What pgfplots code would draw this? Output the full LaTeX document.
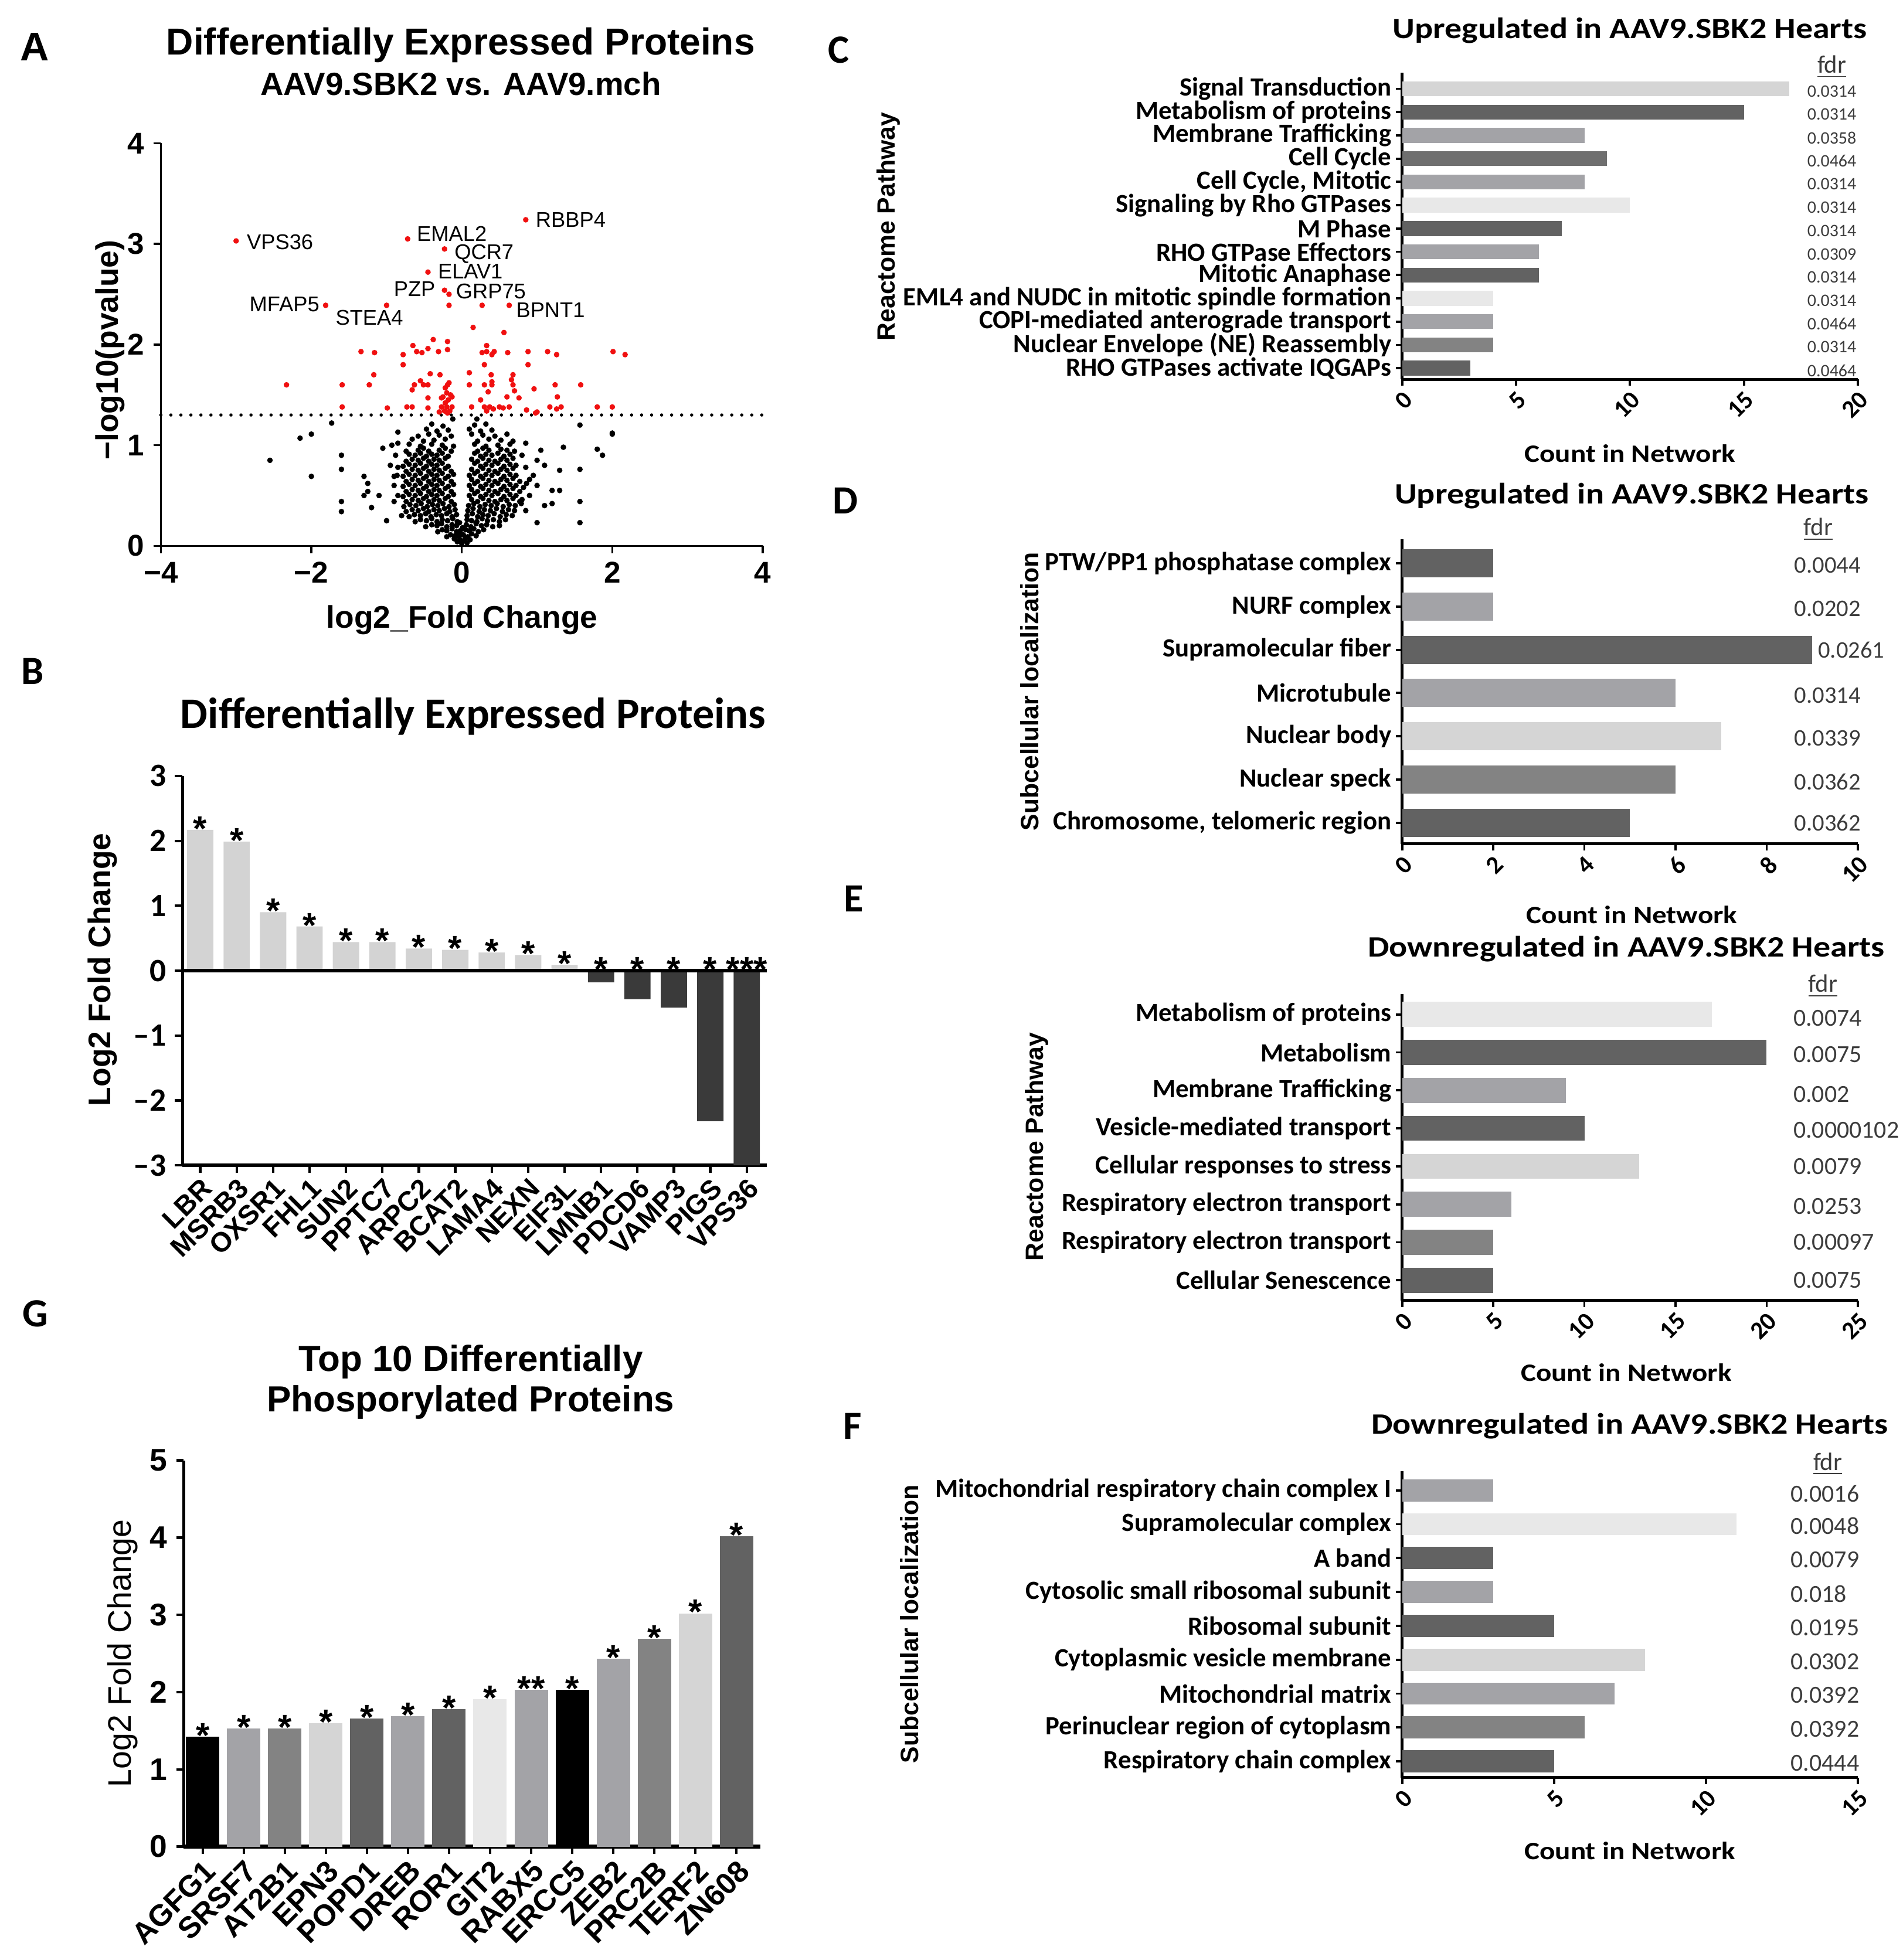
\documentclass[border=0pt]{standalone}
\usepackage{fontspec}
\setmainfont{Liberation Sans}
\newfontfamily\carl{Carlito}
\newfontfamily\carlw[FakeStretch=1.15]{Carlito}
\usepackage{pgfplots}
\pgfplotsset{compat=1.18}
\newcommand\fs[1]{\fontsize{#1}{#1}\selectfont}

\definecolor{g6}{HTML}{626262}
\definecolor{g7}{HTML}{6F6F6F}
\definecolor{g8}{HTML}{838383}
\definecolor{ga}{HTML}{A3A3A7}
\definecolor{gd}{HTML}{D5D5D5}
\definecolor{ge}{HTML}{E8E8E8}
\definecolor{bpos}{HTML}{D3D3D3}
\definecolor{bneg}{HTML}{3A3A3A}
\definecolor{fdrc}{HTML}{3C3C3C}
\definecolor{sigred}{HTML}{F01010}

\pgfplotsset{
  vbar/.style={scale only axis, anchor=south west, clip=false,
    ybar, bar shift=0pt,
    axis lines=left, axis line style={-, line width=1.2pt},
    tick align=outside, major tick length=3pt, tick style={black, line width=1pt},
    xticklabel style={rotate=45, anchor=north east, inner sep=1pt}},
  hbar/.style={scale only axis, anchor=south west, clip=false, width=182pt,
    xbar, bar shift=0pt, y dir=reverse, xmin=0,
    axis lines=left, axis line style={-, line width=1.2pt},
    tick align=outside, major tick length=2.6pt, tick style={black, line width=0.9pt},
    yticklabel style={font=\carl\bfseries\fs{10.5}, inner sep=1.5pt},
    xticklabel style={font=\carl\bfseries\fs{10}, rotate=45, anchor=north east, inner sep=1pt}},
  stars/.style={draw=none, fill=none, nodes near coords, point meta=explicit symbolic,
    every node near coord/.append style={font=\bfseries\fs{14}, inner sep=0pt, yshift=-4.5pt}},
}

\begin{document}
\begin{tikzpicture}
\path[use as bounding box] (0pt,0pt) rectangle (760pt,-783pt);

% ---------------- A: volcano plot
\begin{axis}[scale only axis, anchor=south west, clip=false,
  at={(64.25pt,-218.05pt)}, width=240.4pt, height=160.8pt,
  xmin=-4, xmax=4, ymin=0, ymax=4,
  axis lines=left, axis line style={-, line width=0.8pt},
  xtick={-4,-2,0,2,4}, xticklabels={−4,−2,0,2,4},
  ytick={0,1,2,3,4}, yticklabels={0,1,2,3,4},
  tick align=outside, major tick length=3pt, tick style={black, line width=0.8pt},
  ticklabel style={font=\bfseries\fs{12}}]
% not significant
\addplot[only marks, mark=*, mark size=0.9pt, black] coordinates {
(-0.10,0.07) (-0.06,0.04) (-0.02,0.06) (0.03,0.05) (0.07,0.03) (0.11,0.06) (0.00,0.02) (-0.04,0.09) (0.05,0.08)
(-0.20,0.09) (-0.15,0.11) (-0.09,0.10) (-0.04,0.12) (0.02,0.11) (0.08,0.09) (0.13,0.12) (0.19,0.10)
(-0.32,0.14) (-0.26,0.16) (-0.20,0.15) (-0.13,0.17) (-0.07,0.14) (0.05,0.16) (0.10,0.15) (0.16,0.17) (0.22,0.14) (0.29,0.16) (-0.02,0.15) (0.01,0.18)
(-0.48,0.19) (-0.40,0.21) (-0.33,0.20) (-0.27,0.22) (-0.20,0.19) (-0.13,0.21) (-0.07,0.20) (0.06,0.21) (0.12,0.19) (0.19,0.22) (0.26,0.20) (0.33,0.21) (0.41,0.19) (0.50,0.20) (-0.03,0.23)
(-0.62,0.24) (-0.55,0.26) (-0.47,0.25) (-0.40,0.27) (-0.33,0.24) (-0.26,0.26) (-0.19,0.25) (-0.12,0.27) (-0.06,0.24) (0.07,0.26) (0.13,0.25) (0.20,0.24) (0.27,0.27) (0.34,0.25) (0.42,0.26) (0.50,0.24) (0.58,0.26)
(-0.70,0.29) (-0.63,0.31) (-0.55,0.30) (-0.48,0.32) (-0.41,0.29) (-0.34,0.31) (-0.27,0.30) (-0.20,0.32) (-0.13,0.29) (-0.07,0.31) (0.07,0.30) (0.14,0.32) (0.21,0.29) (0.28,0.31) (0.35,0.30) (0.43,0.32) (0.51,0.29) (0.59,0.31) (0.67,0.30)
(-0.74,0.34) (-0.66,0.36) (-0.58,0.35) (-0.51,0.37) (-0.44,0.34) (-0.37,0.36) (-0.30,0.35) (-0.23,0.37) (-0.16,0.34) (-0.09,0.36) (0.08,0.35) (0.15,0.37) (0.23,0.34) (0.30,0.36) (0.38,0.35) (0.46,0.37) (0.54,0.34) (0.62,0.36) (0.70,0.35)
(-0.77,0.39) (-0.69,0.41) (-0.61,0.40) (-0.54,0.42) (-0.46,0.39) (-0.39,0.41) (-0.32,0.40) (-0.25,0.42) (-0.17,0.39) (-0.10,0.41) (0.09,0.40) (0.16,0.42) (0.24,0.39) (0.31,0.41) (0.39,0.40) (0.47,0.42) (0.55,0.39) (0.63,0.41) (0.71,0.40) (0.79,0.42)
(-0.74,0.44) (-0.66,0.46) (-0.58,0.45) (-0.51,0.47) (-0.44,0.44) (-0.37,0.46) (-0.30,0.45) (-0.22,0.47) (-0.14,0.44) (0.13,0.46) (0.21,0.44) (0.28,0.47) (0.36,0.45) (0.44,0.44) (0.52,0.46) (0.60,0.45) (0.68,0.47) (0.77,0.44)
(-0.78,0.49) (-0.70,0.51) (-0.62,0.50) (-0.55,0.52) (-0.47,0.49) (-0.40,0.51) (-0.33,0.50) (-0.26,0.52) (-0.18,0.49) (-0.11,0.51) (0.10,0.50) (0.17,0.52) (0.25,0.49) (0.32,0.51) (0.40,0.50) (0.48,0.52) (0.56,0.49) (0.64,0.51) (0.72,0.50)
(-0.74,0.54) (-0.66,0.56) (-0.58,0.55) (-0.51,0.57) (-0.44,0.54) (-0.37,0.56) (-0.30,0.55) (-0.22,0.57) (-0.14,0.54) (0.13,0.56) (0.21,0.54) (0.28,0.57) (0.36,0.55) (0.44,0.54) (0.52,0.56) (0.60,0.55) (0.68,0.57) (0.77,0.54)
(-0.78,0.59) (-0.70,0.61) (-0.62,0.60) (-0.55,0.62) (-0.47,0.59) (-0.40,0.61) (-0.33,0.60) (-0.26,0.62) (-0.18,0.59) (-0.11,0.61) (0.10,0.60) (0.17,0.62) (0.25,0.59) (0.32,0.61) (0.40,0.60) (0.48,0.62) (0.56,0.59) (0.64,0.61) (0.72,0.60)
(-0.74,0.64) (-0.66,0.66) (-0.58,0.65) (-0.51,0.67) (-0.44,0.64) (-0.37,0.66) (-0.30,0.65) (-0.22,0.67) (-0.14,0.64) (0.13,0.66) (0.21,0.64) (0.28,0.67) (0.36,0.65) (0.44,0.64) (0.52,0.66) (0.60,0.65) (0.68,0.67) (0.77,0.64)
(-0.78,0.69) (-0.70,0.71) (-0.62,0.70) (-0.55,0.72) (-0.47,0.69) (-0.40,0.71) (-0.33,0.70) (-0.26,0.72) (-0.18,0.69) (-0.11,0.71) (0.10,0.70) (0.17,0.72) (0.25,0.69) (0.32,0.71) (0.40,0.70) (0.48,0.72) (0.56,0.69) (0.64,0.71) (0.72,0.70)
(-0.74,0.74) (-0.66,0.76) (-0.58,0.75) (-0.51,0.77) (-0.44,0.74) (-0.37,0.76) (-0.30,0.75) (-0.22,0.77) (-0.14,0.74) (0.13,0.76) (0.21,0.74) (0.28,0.77) (0.36,0.75) (0.44,0.74) (0.52,0.76) (0.60,0.75) (0.68,0.77)
(-0.78,0.79) (-0.70,0.81) (-0.62,0.80) (-0.55,0.82) (-0.47,0.79) (-0.40,0.81) (-0.33,0.80) (-0.26,0.82) (-0.18,0.79) (0.17,0.82) (0.25,0.79) (0.32,0.81) (0.40,0.80) (0.48,0.82) (0.56,0.79) (0.64,0.81) (0.72,0.80)
(-0.74,0.84) (-0.66,0.86) (-0.58,0.85) (-0.51,0.87) (-0.44,0.84) (-0.37,0.86) (-0.30,0.85) (-0.22,0.87) (0.13,0.86) (0.21,0.84) (0.28,0.87) (0.36,0.85) (0.44,0.84) (0.52,0.86) (0.60,0.85) (0.68,0.87)
(-0.70,0.91) (-0.62,0.90) (-0.55,0.92) (-0.47,0.89) (-0.40,0.91) (-0.33,0.90) (-0.26,0.92) (-0.18,0.89) (0.17,0.92) (0.25,0.89) (0.32,0.91) (0.40,0.90) (0.48,0.92) (0.56,0.89) (0.64,0.91)
(-0.74,0.94) (-0.58,0.95) (-0.51,0.97) (-0.44,0.94) (-0.30,0.95) (-0.22,0.97) (-0.14,0.94) (0.21,0.94) (0.28,0.97) (0.36,0.95) (0.52,0.96) (0.60,0.95) (0.70,0.94)
(-0.70,1.01) (-0.55,0.99) (-0.40,1.01) (-0.26,1.00) (-0.11,0.99) (0.17,1.01) (0.32,0.99) (0.48,1.00) (0.64,1.01)
(-0.66,1.06) (-0.51,1.04) (-0.37,1.05) (-0.22,1.06) (0.21,1.04) (0.36,1.06) (0.52,1.05) (0.68,1.04)
(-0.58,1.09) (-0.44,1.11) (-0.30,1.10) (-0.14,1.09) (0.13,1.11) (0.28,1.10) (0.44,1.09) (0.60,1.11)
(-0.47,1.16) (-0.33,1.14) (-0.18,1.15) (0.10,1.16) (0.25,1.14) (0.40,1.15)
(-0.40,1.21) (-0.25,1.19) (0.17,1.20) (0.32,1.21) (-0.12,1.26) (0.20,1.26)
(-2.55,0.85) (-2.15,1.07) (-2.00,1.11) (-2.00,0.69) (-1.73,1.22) (-1.60,0.90) (-1.60,0.76) (-1.60,0.44) (-1.60,0.34)
(-1.30,0.69) (-1.30,0.50) (-1.25,0.62) (-1.25,0.54) (-1.20,0.38) (-1.10,0.50) (-1.05,0.97) (-1.00,0.25) (-0.95,0.80)
(-0.93,1.00) (-0.90,0.69) (-0.90,0.60) (-0.90,0.44) (-0.85,1.13) (-0.85,0.78) (-0.85,0.50) (-0.85,1.02) (-0.80,0.30)
(-0.88,0.90) (-0.86,0.70)
(1.00,0.23) (1.57,0.23) (1.57,0.44) (1.57,0.76) (1.57,1.20) (2.00,1.11) (2.00,1.12) (1.80,0.96) (1.87,0.90) (1.35,0.98)
(1.30,0.75) (1.30,0.55) (1.20,0.55) (1.20,0.42) (1.10,0.40) (1.10,0.80) (1.05,0.95) (1.00,0.60) (1.00,0.85) (0.95,0.70)
(0.90,0.66) (0.90,0.50) (0.86,0.62) (0.85,0.35) (0.85,0.78) (0.82,0.58) (0.80,0.90) (0.85,1.02) (0.80,0.46)
};
% significant (p < 0.05)
\addplot[only marks, mark=*, mark size=0.9pt, sigred] coordinates {
(-3.00,3.03) (-0.72,3.05) (0.85,3.24) (-0.23,2.95) (-0.45,2.72) (-0.23,2.54) (-0.17,2.50)
(-1.81,2.39) (-1.00,2.39) (-0.17,2.39) (0.27,2.39) (0.63,2.39) (0.15,2.17) (0.56,2.12)
(-0.38,2.05) (-0.19,2.03) (-0.65,1.99) (0.33,1.99)
(-1.34,1.93) (-1.16,1.92) (-0.78,1.90) (-0.60,1.93) (-0.53,1.92) (-0.45,1.96) (-0.31,1.93) (-0.19,1.95)
(0.27,1.92) (0.33,1.93) (0.40,1.90) (0.43,1.93) (0.61,1.92) (0.88,1.93) (1.14,1.93) (1.26,1.90) (2.01,1.93) (2.17,1.90)
(-0.78,1.80) (0.30,1.80) (0.88,1.80)
(-1.17,1.70) (-0.42,1.71) (-0.29,1.70) (0.10,1.72) (0.39,1.70) (0.68,1.70)
(-0.55,1.64) (0.40,1.63) (0.66,1.65)
(-2.33,1.60) (-1.59,1.60) (-1.23,1.60) (-0.63,1.60) (-0.51,1.60) (-0.45,1.60) (-0.22,1.57) (-0.19,1.60) (-0.17,1.62)
(0.10,1.60) (0.30,1.60) (0.40,1.60) (0.68,1.60) (0.96,1.56) (1.24,1.60) (1.58,1.60)
(-0.66,1.55) (-0.20,1.52) (-0.15,1.50) (-0.25,1.48) (0.35,1.53) (0.70,1.54)
(-0.45,1.47) (-0.27,1.47) (-0.22,1.42) (-0.18,1.45) (-0.13,1.48) (0.25,1.45) (0.60,1.48) (0.76,1.47) (1.27,1.48)
(-1.59,1.38) (-0.99,1.37) (-0.73,1.38) (-0.66,1.38) (-0.45,1.37) (-0.27,1.38) (-0.20,1.38) (-0.13,1.38)
(0.13,1.38) (0.30,1.38) (0.37,1.38) (0.42,1.36) (0.50,1.38) (0.55,1.37) (0.63,1.38) (0.86,1.35) (1.17,1.38)
(1.26,1.36) (1.32,1.38) (1.80,1.38) (2.00,1.38)
(-0.30,1.33) (-0.23,1.34) (-0.19,1.32) (-0.16,1.34) (0.33,1.34) (0.98,1.32) (1.00,1.33)
};
\addplot[black, line width=1.3pt, line cap=round, dash pattern=on 0pt off 4pt] coordinates {(-4,1.3) (4,1.3)};
\begin{scope}[every node/.style={font=\fs{8.5}, inner sep=0.5pt}]
\node[anchor=west] at (axis cs:-2.88,3.02) {VPS36};
\node[anchor=west] at (axis cs:-0.62,3.10) {EMAL2};
\node[anchor=west] at (axis cs:0.96,3.24) {RBBP4};
\node[anchor=west] at (axis cs:-0.12,2.90) {QCR7};
\node[anchor=west] at (axis cs:-0.34,2.73) {ELAV1};
\node[anchor=east] at (axis cs:-0.33,2.55) {PZP};
\node[anchor=west] at (axis cs:-0.10,2.53) {GRP75};
\node[anchor=east] at (axis cs:-1.87,2.40) {MFAP5};
\node[anchor=west] at (axis cs:-1.70,2.27) {STEA4};
\node[anchor=west] at (axis cs:0.70,2.34) {BPNT1};
\end{scope}
\end{axis}

% ---------------- B: differentially expressed proteins
\begin{axis}[vbar, at={(72.85pt,-465.5pt)}, width=233.4pt, height=155.5pt,
  bar width=10.5pt, xmin=-0.49, xmax=15.55, ymin=-3, ymax=3,
  xtick={0,...,15},
  xticklabels={LBR,MSRB3,OXSR1,FHL1,SUN2,PPTC7,ARPC2,BCAT2,LAMA4,NEXN,EIF3L,LMNB1,PDCD6,VAMP3,PIGS,VPS36},
  ytick={-3,...,3}, yticklabels={–3,–2,–1,0,1,2,3},
  xticklabel style={font=\bfseries\fs{11}},
  yticklabel style={font=\carl\bfseries\fs{13}}]
\addplot[fill=bpos, draw=none] coordinates {
(0,2.17) (1,1.99) (2,0.90) (3,0.68) (4,0.44) (5,0.44) (6,0.34) (7,0.32) (8,0.28) (9,0.24) (10,0.09)};
\addplot[fill=bneg, draw=none] coordinates {
(11,-0.18) (12,-0.44) (13,-0.57) (14,-2.32) (15,-3.00)};
\addplot[stars] coordinates {
(0,2.17)[*] (1,1.99)[*] (2,0.90)[*] (3,0.68)[*] (4,0.44)[*] (5,0.44)[*] (6,0.34)[*] (7,0.32)[*]
(8,0.28)[*] (9,0.24)[*] (10,0.09)[*] (11,0)[*] (12,0)[*] (13,0)[*] (14,0)[*] (15,0)[***]};
\draw[line width=1.5pt] (rel axis cs:0,0.5) -- (rel axis cs:1,0.5);
\end{axis}

% ---------------- G: phosphorylated proteins
\begin{axis}[vbar, at={(73.4pt,-737.7pt)}, width=230.25pt, height=154.3pt,
  bar width=13.35pt, xmin=-0.46, xmax=13.58, ymin=0, ymax=5,
  x axis line style={line width=1.6pt},
  xtick={0,...,13},
  xticklabels={AGFG1,SRSF7,AT2B1,EPN3,POPD1,DREB,ROR1,GIT2,RABX5,ERCC5,ZEB2,PRC2B,TERF2,ZN608},
  ytick={0,...,5}, yticklabels={0,1,2,3,4,5},
  xticklabel style={font=\bfseries\fs{12}},
  yticklabel style={font=\bfseries\fs{12.5}}]
\addplot[fill=black, draw=none] coordinates {(0,1.42)};
\addplot[fill=ga, draw=none] coordinates {(1,1.53)};
\addplot[fill=g8, draw=none] coordinates {(2,1.53)};
\addplot[fill=gd, draw=none] coordinates {(3,1.60)};
\addplot[fill=g6, draw=none] coordinates {(4,1.66)};
\addplot[fill=ga, draw=none] coordinates {(5,1.69)};
\addplot[fill=g6, draw=none] coordinates {(6,1.78)};
\addplot[fill=ge, draw=none] coordinates {(7,1.91)};
\addplot[fill=ga, draw=none] coordinates {(8,2.03)};
\addplot[fill=black, draw=none] coordinates {(9,2.03)};
\addplot[fill=ga, draw=none] coordinates {(10,2.43)};
\addplot[fill=g8, draw=none] coordinates {(11,2.69)};
\addplot[fill=gd, draw=none] coordinates {(12,3.02)};
\addplot[fill=g6, draw=none] coordinates {(13,4.02)};
\addplot[stars] coordinates {
(0,1.42)[*] (1,1.53)[*] (2,1.53)[*] (3,1.60)[*] (4,1.66)[*] (5,1.69)[*] (6,1.78)[*]
(7,1.91)[*] (8,2.03)[**] (9,2.03)[*] (10,2.43)[*] (11,2.69)[*] (12,3.02)[*] (13,4.02)[*]};
\end{axis}

% ---------------- C: upregulated, reactome
\begin{axis}[hbar, at={(560pt,-151.55pt)}, height=122.4pt, bar width=5.95pt,
  xmax=20, ymin=-0.68, ymax=12.48,
  xtick={0,5,10,15,20}, xticklabels={0,5,10,15,20}, ytick={0,...,12},
  yticklabels={Signal Transduction,Metabolism of proteins,Membrane Trafficking,Cell Cycle,{Cell Cycle, Mitotic},Signaling by Rho GTPases,M Phase,RHO GTPase Effectors,Mitotic Anaphase,EML4 and NUDC in mitotic spindle formation,COPI-mediated anterograde transport,Nuclear Envelope (NE) Reassembly,RHO GTPases activate IQGAPs}]
\addplot[fill=gd, draw=none] coordinates {(17,0)};
\addplot[fill=g6, draw=none] coordinates {(15,1)};
\addplot[fill=ga, draw=none] coordinates {(8,2)};
\addplot[fill=g7, draw=none] coordinates {(9,3)};
\addplot[fill=ga, draw=none] coordinates {(8,4)};
\addplot[fill=ge, draw=none] coordinates {(10,5)};
\addplot[fill=g6, draw=none] coordinates {(7,6)};
\addplot[fill=ga, draw=none] coordinates {(6,7)};
\addplot[fill=g6, draw=none] coordinates {(6,8)};
\addplot[fill=ge, draw=none] coordinates {(4,9)};
\addplot[fill=ga, draw=none] coordinates {(4,10)};
\addplot[fill=g8, draw=none] coordinates {(4,11)};
\addplot[fill=g6, draw=none] coordinates {(3,12)};
\begin{scope}[every node/.style={font=\carl\fs{7}, text=fdrc, inner sep=0pt}]
\node[font=\carl\fs{10}] at (axis cs:18.86,-0.95) {\underline{fdr}};
\node at (axis cs:18.86,0.1) {0.0314};
\node at (axis cs:18.86,1.1) {0.0314};
\node at (axis cs:18.86,2.1) {0.0358};
\node at (axis cs:18.86,3.1) {0.0464};
\node at (axis cs:18.86,4.1) {0.0314};
\node at (axis cs:18.86,5.1) {0.0314};
\node at (axis cs:18.86,6.1) {0.0314};
\node at (axis cs:18.86,7.1) {0.0309};
\node at (axis cs:18.86,8.1) {0.0314};
\node at (axis cs:18.86,9.1) {0.0314};
\node at (axis cs:18.86,10.1) {0.0464};
\node at (axis cs:18.86,11.1) {0.0314};
\node at (axis cs:18.86,12.1) {0.0464};
\end{scope}
\end{axis}

% ---------------- D: upregulated, localization
\begin{axis}[hbar, at={(560pt,-337.15pt)}, height=121.8pt, bar width=11.25pt,
  xmax=10, ymin=-0.56, ymax=6.49,
  xtick={0,2,4,6,8,10}, xticklabels={0,2,4,6,8,10}, ytick={0,...,6},
  yticklabels={PTW/PP1 phosphatase complex,NURF complex,Supramolecular fiber,Microtubule,Nuclear body,Nuclear speck,{Chromosome, telomeric region}}]
\addplot[fill=g6, draw=none] coordinates {(2,0)};
\addplot[fill=ga, draw=none] coordinates {(2,1)};
\addplot[fill=g6, draw=none] coordinates {(9,2)};
\addplot[fill=ga, draw=none] coordinates {(6,3)};
\addplot[fill=gd, draw=none] coordinates {(7,4)};
\addplot[fill=g8, draw=none] coordinates {(6,5)};
\addplot[fill=g6, draw=none] coordinates {(5,6)};
\begin{scope}[every node/.style={font=\carl\fs{9.5}, text=fdrc, inner sep=0pt, anchor=west}]
\node[font=\carl\fs{10}, anchor=center] at (axis cs:9.13,-0.78) {\underline{fdr}};
\node at (axis cs:8.60,0.05) {0.0044};
\node at (axis cs:8.60,1.05) {0.0202};
\node at (axis cs:9.12,2.0) {0.0261};
\node at (axis cs:8.60,3.05) {0.0314};
\node at (axis cs:8.60,4.05) {0.0339};
\node at (axis cs:8.60,5.05) {0.0362};
\node at (axis cs:8.60,6.0) {0.0362};
\end{scope}
\end{axis}

% ---------------- E: downregulated, reactome
\begin{axis}[hbar, at={(560pt,-519.5pt)}, height=122.45pt, bar width=10pt,
  xmax=25, ymin=-0.54, ymax=7.53,
  xtick={0,5,10,15,20,25}, xticklabels={0,5,10,15,20,25}, ytick={0,...,7},
  yticklabels={Metabolism of proteins,Metabolism,Membrane Trafficking,Vesicle-mediated transport,Cellular responses to stress,Respiratory electron transport,Respiratory electron transport,Cellular Senescence}]
\addplot[fill=ge, draw=none] coordinates {(17,0)};
\addplot[fill=g6, draw=none] coordinates {(20,1)};
\addplot[fill=ga, draw=none] coordinates {(9,2)};
\addplot[fill=g6, draw=none] coordinates {(10,3)};
\addplot[fill=gd, draw=none] coordinates {(13,4)};
\addplot[fill=ga, draw=none] coordinates {(6,5)};
\addplot[fill=g8, draw=none] coordinates {(5,6)};
\addplot[fill=g6, draw=none] coordinates {(5,7)};
\begin{scope}[every node/.style={font=\carl\fs{9.8}, text=fdrc, inner sep=0pt, anchor=west}]
\node[font=\carl\fs{10}, anchor=center] at (axis cs:23.08,-0.75) {\underline{fdr}};
\node at (axis cs:21.44,0.1) {0.0074};
\node at (axis cs:21.44,1.05) {0.0075};
\node at (axis cs:21.44,2.1) {0.002};
\node at (axis cs:21.44,3.05) {0.0000102};
\node at (axis cs:21.44,4.0) {0.0079};
\node at (axis cs:21.44,5.05) {0.0253};
\node at (axis cs:21.44,6.0) {0.00097};
\node at (axis cs:21.44,7.0) {0.0075};
\end{scope}
\end{axis}

% ---------------- F: downregulated, localization
\begin{axis}[hbar, at={(560pt,-710.15pt)}, height=122.5pt, bar width=8.85pt,
  xmax=15, ymin=-0.57, ymax=8.48,
  xtick={0,5,10,15}, xticklabels={0,5,10,15}, ytick={0,...,8},
  yticklabels={Mitochondrial respiratory chain complex I,Supramolecular complex,A band,Cytosolic small ribosomal subunit,Ribosomal subunit,Cytoplasmic vesicle membrane,Mitochondrial matrix,Perinuclear region of cytoplasm,Respiratory chain complex}]
\addplot[fill=ga, draw=none] coordinates {(3,0)};
\addplot[fill=ge, draw=none] coordinates {(11,1)};
\addplot[fill=g6, draw=none] coordinates {(3,2)};
\addplot[fill=ga, draw=none] coordinates {(3,3)};
\addplot[fill=g6, draw=none] coordinates {(5,4)};
\addplot[fill=gd, draw=none] coordinates {(8,5)};
\addplot[fill=ga, draw=none] coordinates {(7,6)};
\addplot[fill=g8, draw=none] coordinates {(6,7)};
\addplot[fill=g6, draw=none] coordinates {(5,8)};
\begin{scope}[every node/.style={font=\carl\fs{9.8}, text=fdrc, inner sep=0pt, anchor=west}]
\node[font=\carl\fs{10}, anchor=center] at (axis cs:14.01,-0.78) {\underline{fdr}};
\node at (axis cs:12.78,0.1) {0.0016};
\node at (axis cs:12.78,1.05) {0.0048};
\node at (axis cs:12.78,2.05) {0.0079};
\node at (axis cs:12.78,3.05) {0.018};
\node at (axis cs:12.78,4.05) {0.0195};
\node at (axis cs:12.78,5.05) {0.0302};
\node at (axis cs:12.78,6.05) {0.0392};
\node at (axis cs:12.78,7.05) {0.0392};
\node at (axis cs:12.78,8.05) {0.0444};
\end{scope}
\end{axis}

% ---------------- titles, axis labels, panel letters
\node[font=\bfseries\fs{16}] at (13.95pt,-18.8pt) {A};
\node[font=\carl\bfseries\fs{16}] at (13pt,-268.3pt) {B};
\node[font=\carl\bfseries\fs{16}] at (14pt,-524.7pt) {G};
\node[font=\carl\bfseries\fs{16}] at (335pt,-20pt) {C};
\node[font=\carl\bfseries\fs{16}] at (337.75pt,-200.1pt) {D};
\node[font=\carl\bfseries\fs{16}] at (341pt,-359pt) {E};
\node[font=\carl\bfseries\fs{16}] at (340.5pt,-569.8pt) {F};

\node[font=\bfseries\fs{15}] at (184pt,-18pt) {Differentially Expressed Proteins};
\node[font=\bfseries\fs{12.8}] at (184pt,-33.5pt) {AAV9.SBK2 vs. AAV9.mch};
\node[font=\bfseries\fs{12.5}] at (184.5pt,-247.8pt) {log2\_Fold Change};
\node[font=\bfseries\fs{12.5}, rotate=90] at (43.9pt,-139.85pt) {−log10(pvalue)};

\node[font=\carl\bfseries\fs{17.4}] at (189pt,-286.15pt) {Differentially Expressed Proteins};
\node[font=\bfseries\fs{12.5}, rotate=90] at (40.9pt,-387.35pt) {Log2 Fold Change};

\node[font=\bfseries\fs{14.5}] at (188pt,-544.1pt) {Top 10 Differentially};
\node[font=\bfseries\fs{14.5}] at (188pt,-560.1pt) {Phosporylated Proteins};
\node[font=\fs{13}, rotate=90] at (48.9pt,-660.45pt) {Log2 Fold Change};

\node[font=\carlw\bfseries\fs{11.8}] at (650.95pt,-12.15pt) {Upregulated in AAV9.SBK2 Hearts};
\node[font=\carlw\bfseries\fs{11.8}] at (651.75pt,-198pt) {Upregulated in AAV9.SBK2 Hearts};
\node[font=\carlw\bfseries\fs{11.8}] at (649.5pt,-379.15pt) {Downregulated in AAV9.SBK2 Hearts};
\node[font=\carlw\bfseries\fs{11.8}] at (650.95pt,-569.8pt) {Downregulated in AAV9.SBK2 Hearts};

\node[font=\carlw\bfseries\fs{10}] at (651pt,-181.1pt) {Count in Network};
\node[font=\carlw\bfseries\fs{10}] at (651.75pt,-365.45pt) {Count in Network};
\node[font=\carlw\bfseries\fs{10}] at (649.5pt,-548.25pt) {Count in Network};
\node[font=\carlw\bfseries\fs{10}] at (650.95pt,-739.3pt) {Count in Network};

\node[font=\bfseries\fs{10}, rotate=90] at (354.85pt,-90.5pt) {Reactome Pathway};
\node[font=\bfseries\fs{10}, rotate=90] at (411.3pt,-276.25pt) {Subcellular localization};
\node[font=\bfseries\fs{10}, rotate=90] at (414.05pt,-458.15pt) {Reactome Pathway};
\node[font=\bfseries\fs{10}, rotate=90] at (363.1pt,-648.8pt) {Subcellular localization};
\end{tikzpicture}
\end{document}
